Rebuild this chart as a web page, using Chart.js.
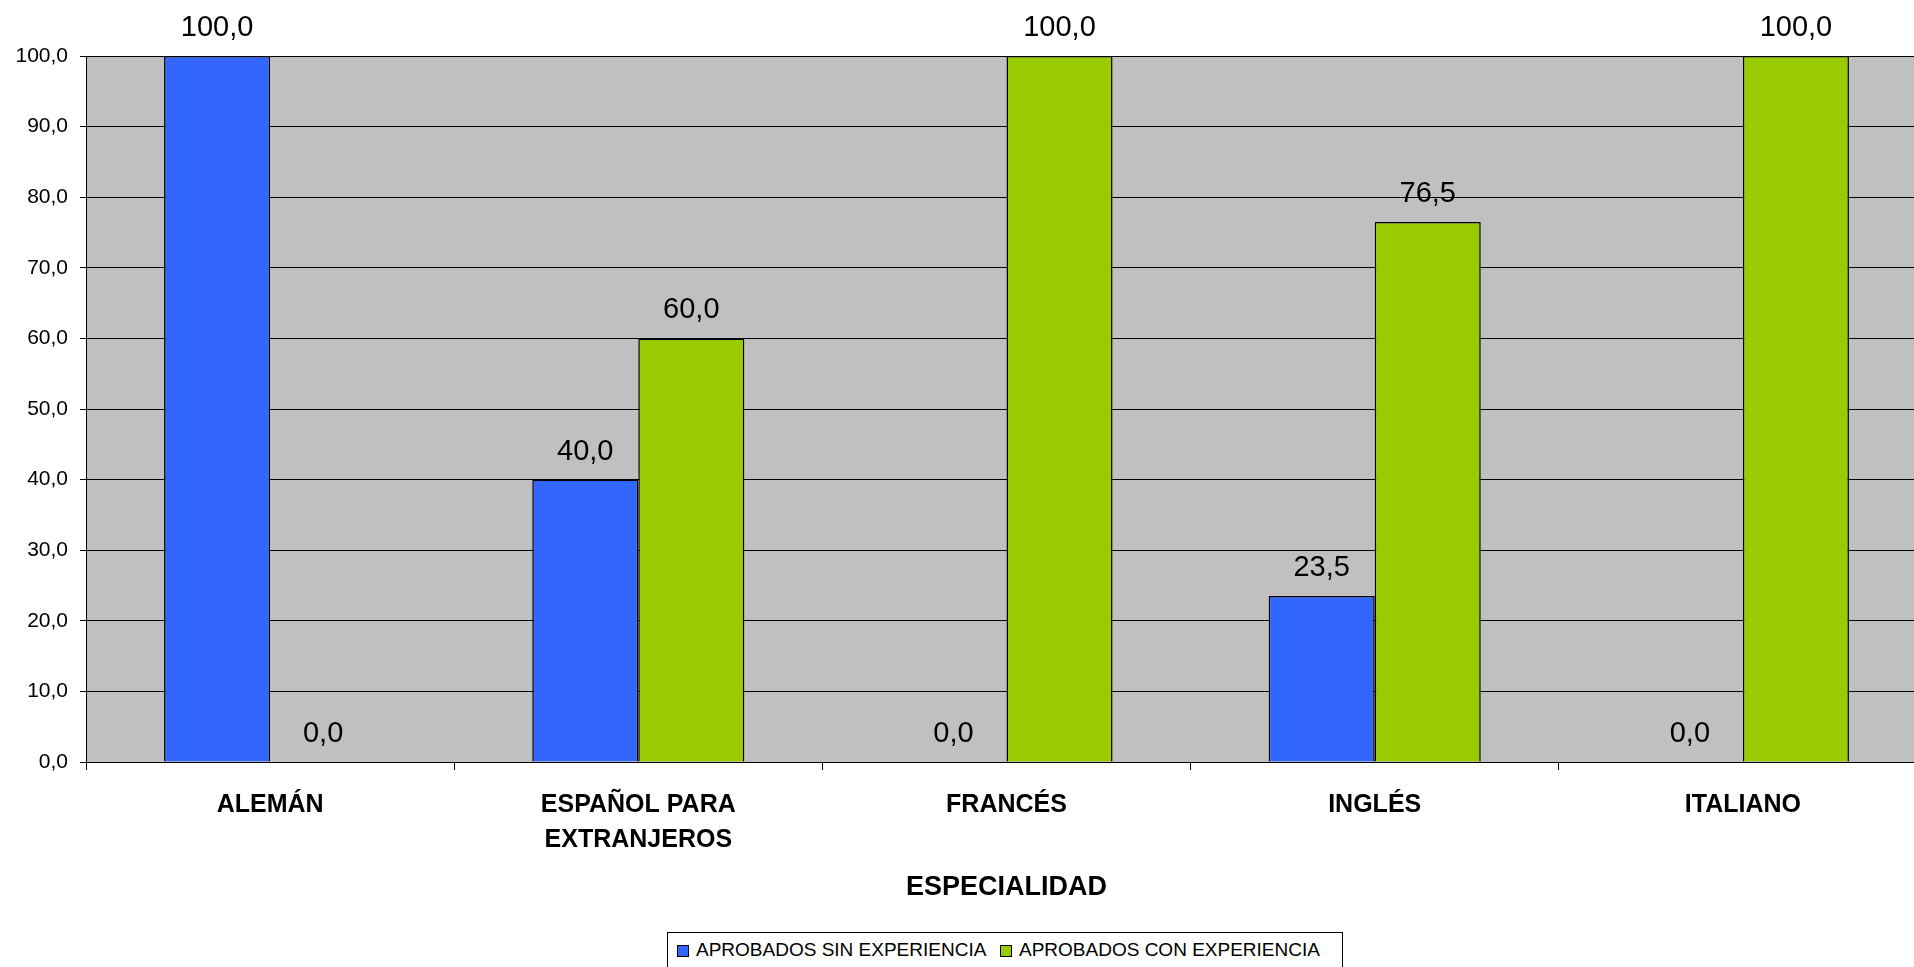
<!DOCTYPE html>
<html>
<head>
<meta charset="utf-8">
<script src="https://cdn.jsdelivr.net/npm/chart.js@4.4.1/dist/chart.umd.min.js"></script>
<style>
    html, body { margin: 0; padding: 0; background: #fff; overflow: hidden; }
    #wrap { position: relative; width: 1914px; height: 967px; overflow: hidden; }
    #chart { position: absolute; left: 0; top: 0; }
    #legend {
        position: absolute; left: 667px; top: 932px; width: 676px; height: 60px;
        border: 1px solid #000; background: #fff; box-sizing: border-box;
        font-family: 'Liberation Sans', Arial, sans-serif; font-size: 19px; color: #000;
    }
    .lg-item { position: absolute; top: 6px; white-space: nowrap; line-height: 22px; }
    .lg-box { position: absolute; top: 6px; width: 10px; height: 10px; border: 1px solid #000; }
    .lg-text { position: absolute; left: 19px; top: 0; }
</style>
</head>
<body>
<div id="wrap">
    <canvas id="chart" width="1930" height="967"></canvas>
    <div id="legend"></div>
</div>
<script>
(function () {
    'use strict';

    const CATEGORIES = ['ALEMÁN', ['ESPAÑOL PARA', 'EXTRANJEROS'], 'FRANCÉS', 'INGLÉS', 'ITALIANO'];
    const SIN_EXPERIENCIA = [100.0, 40.0, 0.0, 23.5, 0.0];
    const CON_EXPERIENCIA = [0.0, 60.0, 100.0, 76.5, 100.0];
    const SERIES_LABELS = ['APROBADOS SIN EXPERIENCIA', 'APROBADOS CON EXPERIENCIA'];
    const SERIES_COLORS = ['#3366FF', '#99CC00'];
    const X_TITLE = 'ESPECIALIDAD';

    const FONT = "'Liberation Sans', Arial, sans-serif";

    function fmt(v) {
        return Number(v).toFixed(1).replace('.', ',');
    }

    // gray plot background
    const plotBg = {
        id: 'plotBg',
        beforeDraw(chart) {
            const { ctx, chartArea: a } = chart;
            ctx.save();
            ctx.fillStyle = '#C0C0C0';
            ctx.fillRect(a.left, a.top, a.right - a.left, a.bottom - a.top);
            ctx.restore();
        }
    };

    // value labels above each bar
    const valueLabels = {
        id: 'valueLabels',
        afterDatasetsDraw(chart) {
            const ctx = chart.ctx;
            ctx.save();
            ctx.font = '29px ' + FONT;
            ctx.fillStyle = '#000';
            ctx.textAlign = 'center';
            ctx.textBaseline = 'alphabetic';
            chart.data.datasets.forEach((ds, di) => {
                const meta = chart.getDatasetMeta(di);
                meta.data.forEach((bar, i) => {
                    ctx.fillText(fmt(ds.data[i]), bar.x, bar.y - 20);
                });
            });
            ctx.restore();
        }
    };

    const datasets = [SIN_EXPERIENCIA, CON_EXPERIENCIA].map((data, i) => ({
        label: SERIES_LABELS[i],
        data,
        backgroundColor: SERIES_COLORS[i],
        borderColor: '#000',
        borderWidth: 1.5,
        categoryPercentage: 0.576,
        barPercentage: 1
    }));

    new Chart(document.getElementById('chart'), {
        type: 'bar',
        data: { labels: CATEGORIES, datasets },
        options: {
            responsive: false,
            animation: false,
            layout: { padding: { top: 56, right: 3, left: 0, bottom: 0 } },
            plugins: { legend: { display: false }, tooltip: { enabled: false } },
            scales: {
                x: {
                    afterFit(scale) { scale.height = 205; },
                    grid: { display: true, drawOnChartArea: false, drawTicks: true, tickLength: 8, color: '#000' },
                    border: { display: true, color: '#000', width: 1 },
                    ticks: {
                        color: '#000', padding: 18, maxRotation: 0, autoSkip: false,
                        font: { family: FONT, size: 25, weight: 'bold', lineHeight: 1.4 }
                    },
                    title: {
                        display: true, text: X_TITLE, color: '#000',
                        font: { family: FONT, size: 27, weight: 'bold', lineHeight: 1.2 },
                        padding: { top: 0, bottom: 63 }
                    }
                },
                y: {
                    min: 0, max: 100,
                    afterFit(scale) { scale.width = 86; },
                    grid: { color: '#000', lineWidth: 1, drawTicks: true, tickLength: 6 },
                    border: { display: true, color: '#000', width: 1 },
                    ticks: {
                        stepSize: 10, color: '#000', padding: 12,
                        font: { family: FONT, size: 21 },
                        callback: v => fmt(v)
                    }
                }
            }
        },
        plugins: [plotBg, valueLabels]
    });

    // legend drawn as html, from the series arrays
    const legend = document.getElementById('legend');
    const itemLeft = [9, 332];
    SERIES_LABELS.forEach((label, i) => {
        const item = document.createElement('div');
        item.className = 'lg-item';
        item.style.left = itemLeft[i] + 'px';
        item.innerHTML = `<span class="lg-box" style="background:${SERIES_COLORS[i]}"></span><span class="lg-text">${label}</span>`;
        legend.appendChild(item);
    });
})();
</script>
</body>
</html>
